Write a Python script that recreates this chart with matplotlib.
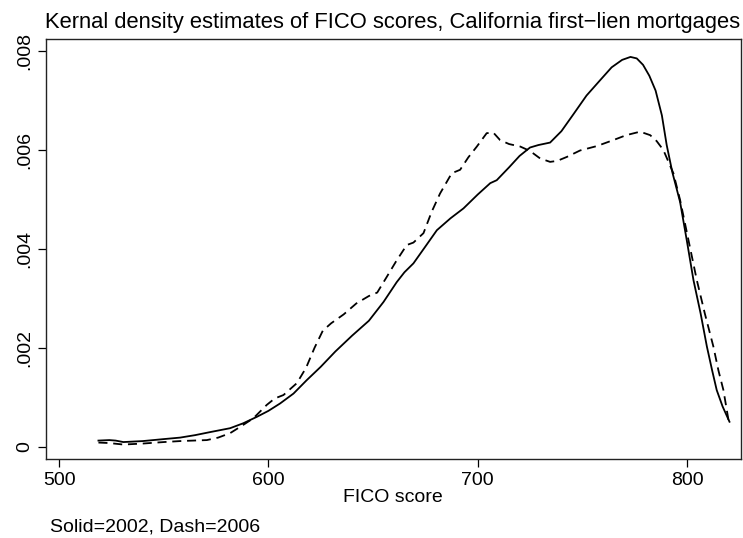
import matplotlib
matplotlib.use("Agg")
import matplotlib.pyplot as plt

plt.rcParams["font.family"] = ["Liberation Sans", "DejaVu Sans"]

# density curves (y in units of 0.001)
fico_2002 = [518.8, 524, 527, 530.7, 540, 550, 557.8, 565, 572, 581.7, 588, 594.5,
             600, 605.6, 612, 618.3, 625, 632, 640, 648, 655, 661.3, 665, 669.3, 675,
             680.5, 687, 693.2, 700, 706, 709.1, 715, 720, 725, 729, 734.6, 740,
             745.7, 752, 758.5, 764, 769, 773, 776, 779, 782, 785, 788, 790.3, 793,
             796.7, 800, 803.1, 806.5, 809.5, 812, 814.2, 817, 820.3]
dens_2002 = [0.13, 0.14, 0.13, 0.10, 0.12, 0.16, 0.19, 0.24, 0.30, 0.38, 0.48, 0.61,
             0.73, 0.88, 1.08, 1.35, 1.62, 1.93, 2.25, 2.55, 2.93, 3.33, 3.53, 3.71, 4.05,
             4.38, 4.62, 4.82, 5.10, 5.33, 5.39, 5.65, 5.88, 6.05, 6.10, 6.15, 6.38,
             6.72, 7.10, 7.41, 7.67, 7.82, 7.88, 7.85, 7.72, 7.50, 7.20, 6.70, 6.10, 5.55,
             4.95, 4.15, 3.37, 2.70, 2.03, 1.55, 1.15, 0.82, 0.51]

fico_2006 = [518.8, 524, 530.7, 540, 550, 557.8, 570.6, 576, 581.7, 587, 592.8, 599.2,
             603, 607.2, 613.6, 618, 622, 626, 630, 636, 642, 648, 652, 656.6, 661,
             666.1, 669.3, 674.1, 678, 682, 687.6, 691.6, 695.5, 699.6, 704.3, 707.5,
             710.7, 715, 720.3, 725, 729.8, 734.6, 738, 742.6, 748.9, 757, 764.8, 771,
             777.6, 782.4, 785.5, 788.7, 793.5, 796.7, 800.7, 804.7, 808.5, 812.6,
             815, 817.4, 819.8]
dens_2006 = [0.09, 0.08, 0.05, 0.07, 0.10, 0.12, 0.14, 0.19, 0.28, 0.42, 0.58, 0.85,
             0.98, 1.05, 1.29, 1.60, 2.00, 2.35, 2.50, 2.68, 2.90, 3.05, 3.12, 3.44, 3.75,
             4.08, 4.13, 4.32, 4.75, 5.12, 5.53, 5.60, 5.85, 6.07, 6.34, 6.35,
             6.20, 6.12, 6.07, 5.98, 5.83, 5.76, 5.78, 5.86, 5.99, 6.08, 6.20, 6.30,
             6.37, 6.30, 6.18, 6.00, 5.53, 4.99, 4.18, 3.37, 2.70, 2.03,
             1.55, 1.15, 0.55]

x_ticks = [500, 600, 700, 800]
y_ticks = [0, 0.002, 0.004, 0.006, 0.008]
y_labels = ["0", ".002", ".004", ".006", ".008"]

fig = plt.figure(figsize=(7.43, 5.38), dpi=100)
ax = fig.add_axes([0.0615, 0.1463, 0.9358, 0.7812])

ax.plot(fico_2002, [d / 1000 for d in dens_2002], color="black", lw=1.3)
ax.plot(fico_2006, [d / 1000 for d in dens_2006], color="black", lw=1.3,
        linestyle=(0, (5.0, 3.2)))

ax.set_xlim(493.6, 825.8)
ax.set_ylim(-0.000248, 0.008242)
ax.set_xticks(x_ticks)
ax.set_yticks(y_ticks)
ax.set_yticklabels(y_labels, rotation=90, va="center")
ax.tick_params(direction="out", length=5.8, width=0.9, labelsize=14, pad=3)
for s in ax.spines.values():
    s.set_linewidth(1.0)
    s.set_color("#222222")

ax.set_xlabel("FICO score", fontsize=14, labelpad=0)
fig.text(0.529, 0.958, "Kernal density estimates of FICO scores, California first\u2212lien mortgages",
         fontsize=15.8, ha="center", va="center")
fig.text(0.067, 0.02, "Solid=2002, Dash=2006", fontsize=14, ha="left", va="center")

fig.savefig("out.png", dpi=100, facecolor="white")
